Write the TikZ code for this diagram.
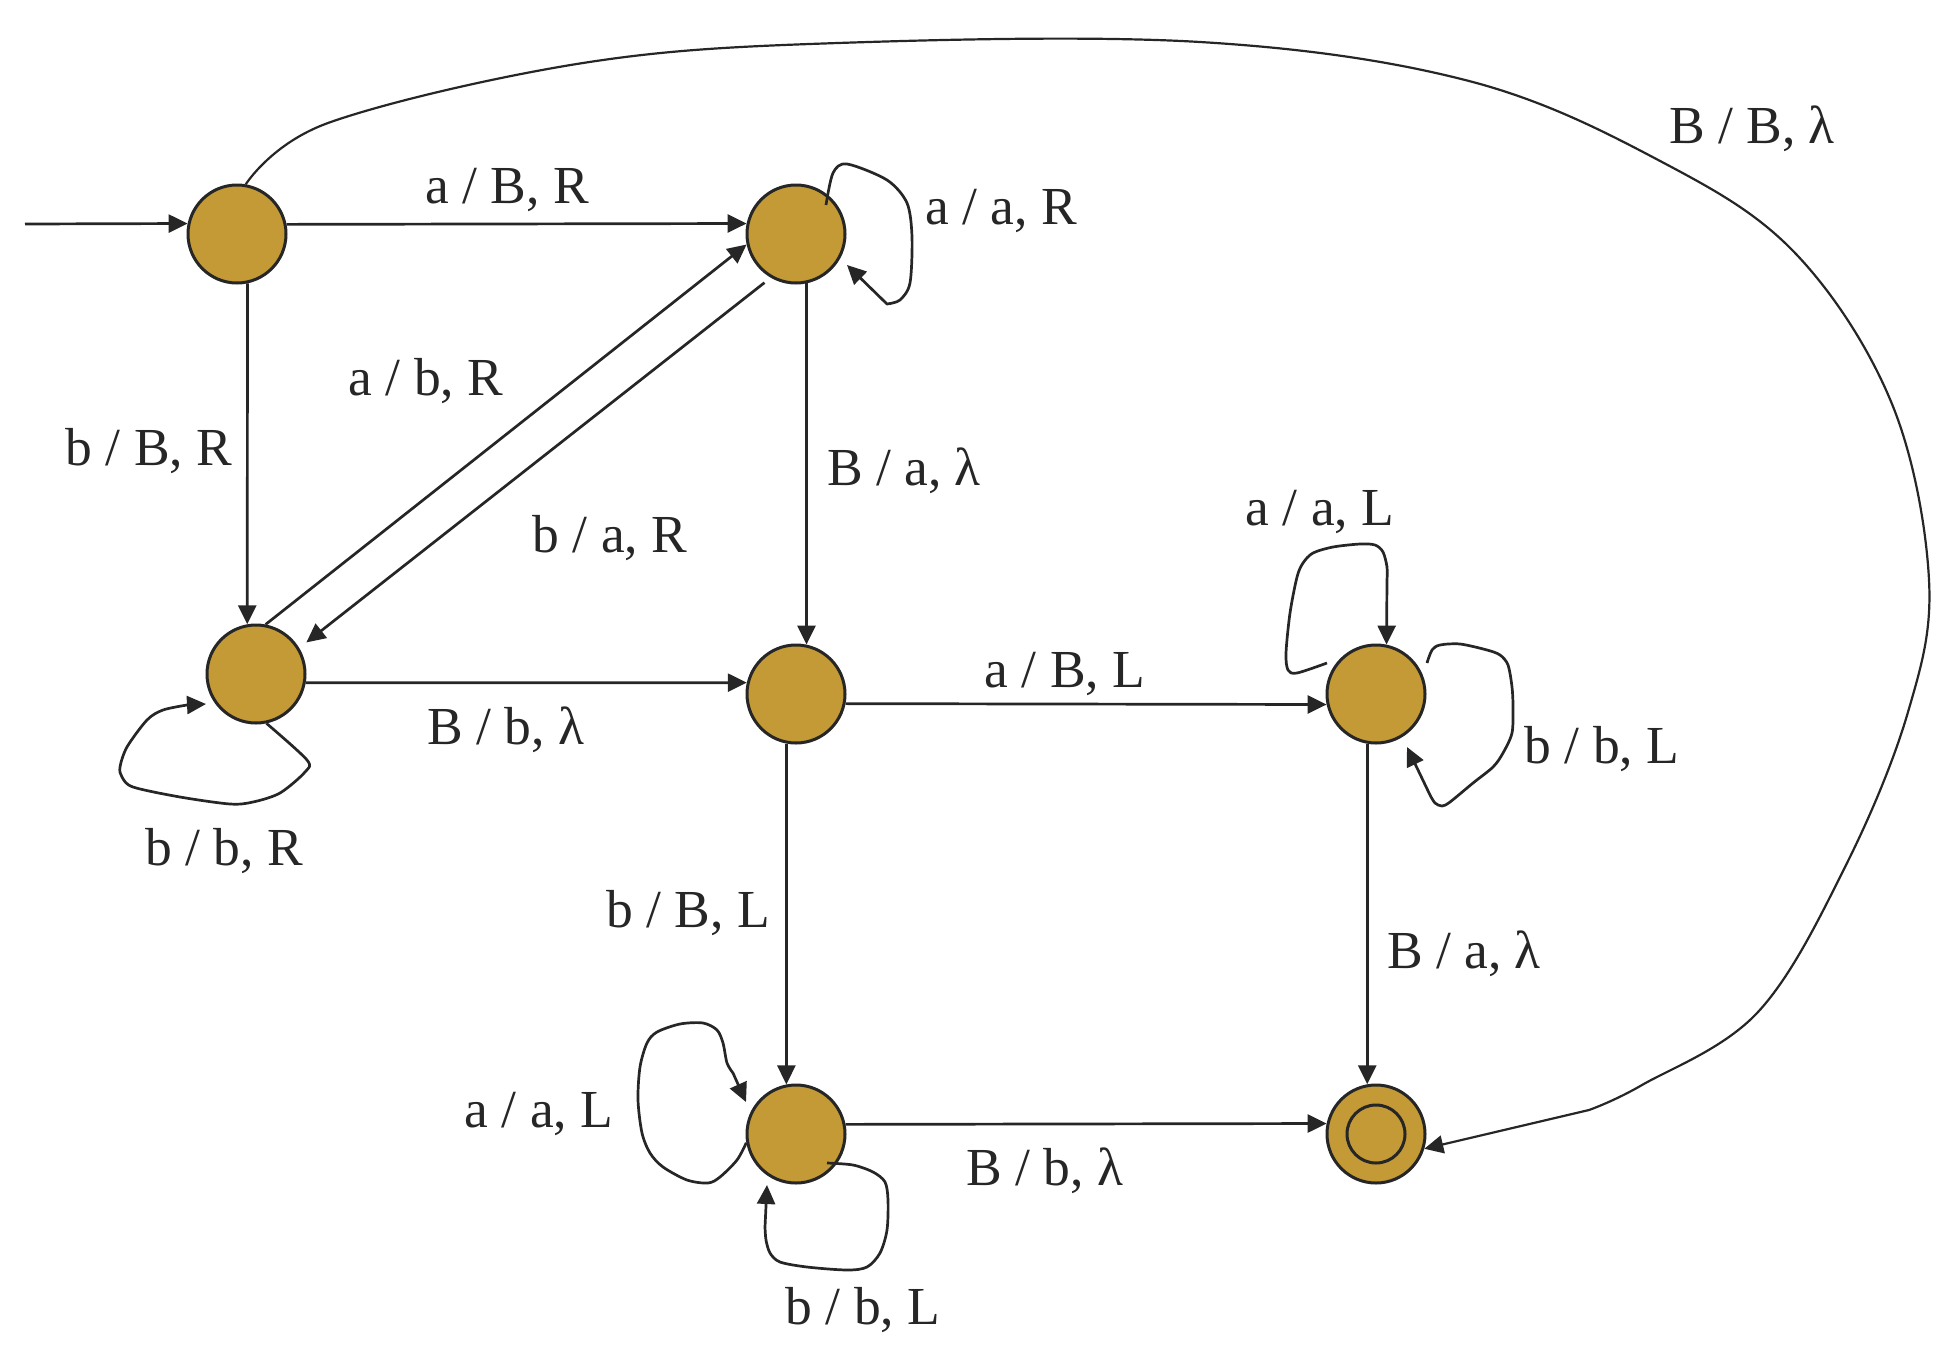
\documentclass[tikz,border=0pt]{standalone}
\usepackage{fontspec}
\setmainfont{Liberation Serif}
\usetikzlibrary{arrows.meta,calc}
\definecolor{statefill}{RGB}{195,154,53}
\definecolor{ink}{RGB}{38,38,38}
\begin{document}
\begin{tikzpicture}[x=1pt,y=-1pt,
  state/.style={circle, draw=ink, fill=statefill, line width=3pt, minimum size=98pt, inner sep=0pt},
  edge/.style={draw=ink, line width=2.7pt, line join=round, -{Triangle[length=19pt,width=18pt]}},
  lbl/.style={font=\fontsize{53.5}{64}\selectfont, text=ink, inner sep=0pt, anchor=base}]
\useasboundingbox (0,0) rectangle (1954,1358);

% states
\node[state] (q0) at (237,234) {};
\node[state] (q1) at (796,234) {};
\node[state] (q2) at (256,674) {};
\node[state] (q3) at (796,694) {};
\node[state] (q4) at (1376,694) {};
\node[state] (q5) at (796,1134) {};
\node[state] (q6) at (1376,1134) {};
\node[circle, draw=ink, line width=3pt, minimum size=58pt, inner sep=0pt] (q6in) at (q6) {};

% straight transitions
\coordinate (start) at (25,224);
\draw[edge] (start) -- (q0.168.5);
\draw[edge] (q0.11.5) -- (q1.168.5);
\draw[edge] (q0.-78.5) -- (q2.100.4);
\draw[edge] (q1.-78.5) -- (q3.78.5);
\draw[edge] (q2.-10.4) -- (q3.167.3);
\draw[edge] (q3.-11.5) -- (q4.-168.5);
\draw[edge] (q3.-101.5) -- (q5.101.5);
\draw[edge] (q4.-100.4) -- (q6.100.4);
\draw[edge] (q5.11.5) -- (q6.168.5);
\draw[edge] (q2.79) -- (q1.192);
\draw[edge, shorten <=8pt, shorten >=9pt] (q1.240) -- (q2.31);

% long curve q0 -> q6
\draw[edge, line width=2.2pt] plot[smooth, tension=0.6] coordinates {(q0.80) (328,123) (583,63) (838,43) (1200,42) (1469,81) (1662,162) (1796,254) (1892,404) (1929,580) (1908,712) (1846,865) (1758,1012) (1642,1085) (1589,1110)} -- (q6.-17);

% self loops
\coordinate (l1s) at ($(q1)+(30,-29)$);
\coordinate (l1e) at ($(q1)+(51,31)$);
\draw[edge] plot[smooth, tension=0.5] coordinates {(l1s) (833,173) (847,164) (887,180) (907,203) (912,237) (910,283) (900,300) (887,304)} -- (l1e);

\coordinate (l2e) at ($(q2)+(-50,30)$);
\draw[edge] plot[smooth, tension=0.5] coordinates {(q2.-78) (307,760) (305,772) (280,793) (253,802) (230,804) (180,797) (133,787) (122,777) (120,767) (127,747) (147,720) (163,710) (187,705)} -- (l2e);

\coordinate (l4as) at ($(q4)+(-49,-31)$);
\draw[edge] plot[smooth, tension=0.5] coordinates {(l4as) (1297,673) (1288,670) (1286,653) (1290,613) (1297,577) (1303,563) (1313,553) (1333,547) (1360,544) (1375,545) (1383,552) (1387,567) (1387,580)} -- (q4.78.5);

\coordinate (l4bs) at ($(q4)+(51,-31)$);
\coordinate (l4be) at ($(q4)+(31,53)$);
\draw[edge] plot[smooth, tension=0.5] coordinates {(l4bs) (1432,650) (1440,645) (1460,644) (1487,650) (1500,655) (1508,665) (1512,687) (1513,707) (1512,733) (1503,753) (1493,767) (1473,783) (1450,802) (1442,806) (1435,803) (1430,795)} -- (l4be);

\coordinate (l5ae) at ($(q5)+(-50,-32)$);
\draw[edge] plot[smooth, tension=0.5] coordinates {(q5.190) (737,1160) (720,1177) (708,1183) (687,1180) (663,1167) (650,1153) (642,1133) (638,1100) (640,1067) (647,1043) (657,1032) (680,1024) (703,1023) (717,1030) (723,1043) (727,1063) (733,1073)} -- (l5ae);

\coordinate (l5bs) at ($(q5)+(31,29)$);
\coordinate (l5be) at ($(q5)+(-29,51)$);
\draw[edge] plot[smooth, tension=0.5] coordinates {(l5bs) (853,1165) (873,1172) (885,1182) (888,1200) (887,1230) (880,1253) (867,1267) (847,1270) (807,1267) (780,1262) (770,1253) (766,1240) (765,1227)} -- (l5be);

% labels
\node[lbl] (t01) at (507,203) {a / B, R};
\node[lbl] (t11) at (1001,224) {a / a, R};
\node[lbl] (t02) at (149,465) {b / B, R};
\node[lbl] (t21) at (426,395) {a / b, R};
\node[lbl] (t12) at (610,552) {b / a, R};
\node[lbl] (t13) at (904,485) {B / a, λ};
\node[lbl] (t23) at (506,744) {B / b, λ};
\node[lbl] (t22) at (224,865) {b / b, R};
\node[lbl] (t34) at (1065,687) {a / B, L};
\node[lbl] (t44a) at (1320,525) {a / a, L};
\node[lbl] (t44b) at (1602,763) {b / b, L};
\node[lbl] (t35) at (688,927) {b / B, L};
\node[lbl] (t46) at (1464,968) {B / a, λ};
\node[lbl] (t55a) at (539,1127) {a / a, L};
\node[lbl] (t56) at (1045,1185) {B / b, λ};
\node[lbl] (t55b) at (863,1324) {b / b, L};
\node[lbl] (t06) at (1752,143) {B / B, λ};
\end{tikzpicture}
\end{document}
